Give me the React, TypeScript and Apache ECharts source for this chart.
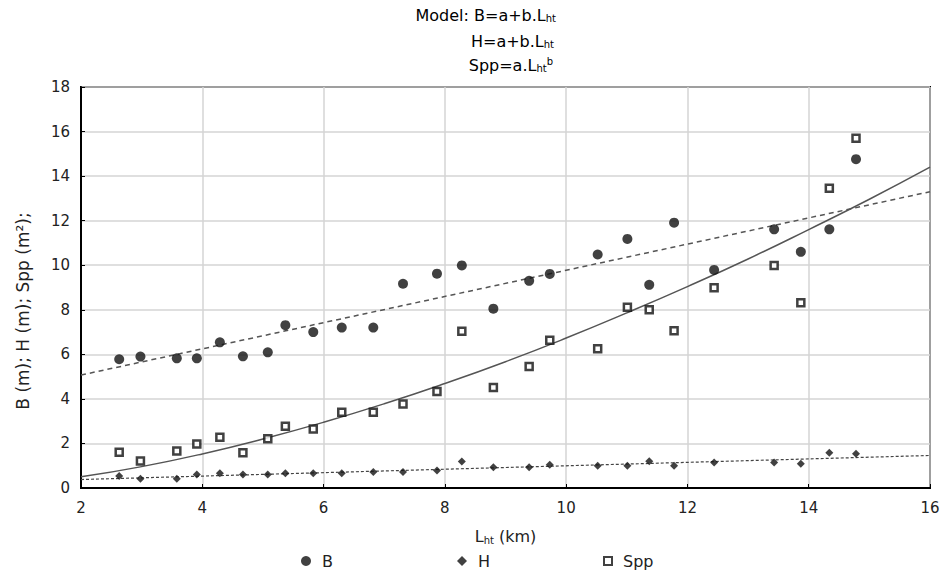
import React, { useEffect, useRef } from "react";
import * as echarts from "echarts";

// Lht (km) of each observation
const lengthKm = [2.63, 2.98, 3.58, 3.91, 4.29, 4.67, 5.08, 5.37, 5.83, 6.30, 6.82, 7.31, 7.87, 8.28, 8.80, 9.39, 9.73, 10.52, 11.01, 11.37, 11.78, 12.44, 13.43, 13.87, 14.34, 14.78];
const bValues = [5.78, 5.90, 5.82, 5.82, 6.54, 5.91, 6.09, 7.31, 7.00, 7.20, 7.20, 9.17, 9.62, 9.99, 8.05, 9.30, 9.61, 10.48, 11.18, 9.12, 11.91, 9.79, 11.61, 10.60, 11.61, 14.76];
const hValues = [0.54, 0.42, 0.42, 0.61, 0.66, 0.61, 0.61, 0.66, 0.66, 0.66, 0.72, 0.72, 0.78, 1.19, 0.93, 0.93, 1.04, 1.00, 1.00, 1.20, 1.00, 1.15, 1.15, 1.09, 1.58, 1.54];
const sppValues = [1.61, 1.21, 1.66, 1.97, 2.28, 1.58, 2.21, 2.77, 2.65, 3.40, 3.40, 3.77, 4.33, 7.04, 4.51, 5.45, 6.63, 6.25, 8.11, 8.00, 7.06, 8.99, 9.99, 8.31, 13.46, 15.70];

// Fitted model curves
const linearFitX = [2, 16];
const bFit = [5.07, 13.3];
const hFit = [0.38, 1.46];
const powerFitX = [2, 3, 4, 5, 6, 7, 8, 9, 10, 11, 12, 13, 14, 15, 16];
const sppFit = [0.5, 0.96, 1.53, 2.2, 2.95, 3.78, 4.69, 5.67, 6.73, 7.86, 9.04, 10.28, 11.6, 12.96, 14.4];

const xTicks = [2, 4, 6, 8, 10, 12, 14, 16];
const yTicks = [0, 2, 4, 6, 8, 10, 12, 14, 16, 18];

const FONT = "DejaVu Sans, Liberation Sans, Arial, sans-serif";

const pairs = (xs: number[], ys: number[]) => xs.map((x, i) => [x, ys[i]]);

export default function App() {
  const ref = useRef<HTMLDivElement>(null);
  useEffect(() => {
    if (!ref.current) return;
    const chart = echarts.init(ref.current, null, { renderer: "svg" });
    const sub = { fontSize: 10, verticalAlign: "bottom", fontFamily: FONT, color: "#222", padding: [7, 0, 0, 0] };
    const sup = { fontSize: 10, verticalAlign: "top", fontFamily: FONT, color: "#222", padding: [0, 0, 7, 0] };
    const main = { fontSize: 16, fontFamily: FONT, color: "#222" };
    const legendText = { fontSize: 16, lineHeight: 16, fontFamily: FONT, color: "#222", padding: [0, 0, 0, 6] };
    const legendBase = { top: 553, padding: 0, itemWidth: 10, itemHeight: 10, textStyle: legendText };
    chart.setOption({
      animation: false,
      backgroundColor: "#fff",
      grid: {
        left: 81,
        right: 16,
        top: 87,
        bottom: 84,
        show: true,
        borderColor: "#000",
        borderWidth: 2,
        backgroundColor: "transparent",
      },
      xAxis: {
        type: "value",
        min: xTicks[0],
        max: xTicks[xTicks.length - 1],
        interval: 2,
        axisLine: { show: true, lineStyle: { color: "#000", width: 2 } },
        axisTick: { show: true, inside: true, length: 4, lineStyle: { color: "#000" } },
        axisLabel: { color: "#222", fontSize: 15, fontFamily: FONT, margin: 12 },
        splitLine: { show: true, lineStyle: { color: "#d4d4d4", width: 1.5 } },
        name: "{a|L}{s|ht}{a| (km)}",
        nameLocation: "middle",
        nameGap: 40,
        nameTextStyle: { rich: { a: main, s: sub } },
      },
      yAxis: {
        type: "value",
        min: yTicks[0],
        max: yTicks[yTicks.length - 1],
        interval: 2,
        axisLine: { show: true, lineStyle: { color: "#000", width: 2 } },
        axisTick: { show: true, inside: true, length: 4, lineStyle: { color: "#000" } },
        axisLabel: { color: "#222", fontSize: 15, fontFamily: FONT, margin: 11 },
        splitLine: { show: true, lineStyle: { color: "#d4d4d4", width: 1.5 } },
      },
      legend: [
        {
          ...legendBase,
          left: 301,
          data: [{ name: "B", icon: "circle", itemStyle: { color: "#111" } }],
        },
        {
          ...legendBase,
          left: 457,
          data: [{ name: "H", icon: "diamond", itemStyle: { color: "#111" } }],
        },
        {
          ...legendBase,
          left: 603,
          itemWidth: 8,
          itemHeight: 8,
          data: [{ name: "Spp", icon: "rect", itemStyle: { color: "#fff", borderColor: "#111", borderWidth: 2 } }],
        },
      ],
      graphic: [
        {
          type: "text", x: 556, y: 15,
          style: { text: "{a|Model: B=a+b.L}{s|ht}", align: "right", verticalAlign: "middle", rich: { a: main, s: sub } },
        },
        {
          type: "text", x: 554, y: 41,
          style: { text: "{a|H=a+b.L}{s|ht}", align: "right", verticalAlign: "middle", rich: { a: main, s: sub } },
        },
        {
          type: "text", x: 553, y: 65,
          style: { text: "{a|Spp=a.L}{s|ht}{p|b}", align: "right", verticalAlign: "middle", rich: { a: main, s: sub, p: sup } },
        },
        {
          type: "text", x: 23, y: 311, rotation: Math.PI / 2,
          style: { text: "B (m); H (m); Spp (m²);", align: "center", verticalAlign: "middle", fontSize: 17, fontFamily: FONT, fill: "#222" },
        },
      ],
      series: [
        {
          name: "B fit", type: "line", data: pairs(linearFitX, bFit), showSymbol: false, silent: true,
          lineStyle: { color: "#555", width: 1.5, type: [5, 4] }, z: 2,
        },
        {
          name: "H fit", type: "line", data: pairs(linearFitX, hFit), showSymbol: false, silent: true,
          lineStyle: { color: "#444", width: 1.2, type: [3, 2] }, z: 2,
        },
        {
          name: "Spp fit", type: "line", data: pairs(powerFitX, sppFit), showSymbol: false, silent: true, smooth: true,
          lineStyle: { color: "#555", width: 1.5 }, z: 2,
        },
        {
          name: "B", type: "scatter", data: pairs(lengthKm, bValues), symbol: "circle", symbolSize: 10,
          itemStyle: { color: "#111" }, z: 3,
        },
        {
          name: "H", type: "scatter", data: pairs(lengthKm, hValues), symbol: "diamond", symbolSize: 8,
          itemStyle: { color: "#111" }, z: 3,
        },
        {
          name: "Spp", type: "scatter", data: pairs(lengthKm, sppValues), symbol: "rect", symbolSize: 7,
          itemStyle: { color: "#fff", borderColor: "#111", borderWidth: 2.5 }, z: 3,
        },
      ],
    });
    return () => chart.dispose();
  }, []);
  return <div ref={ref} style={{ width: 946, height: 572, position: "absolute", left: 0, top: 0 }} />;
}
